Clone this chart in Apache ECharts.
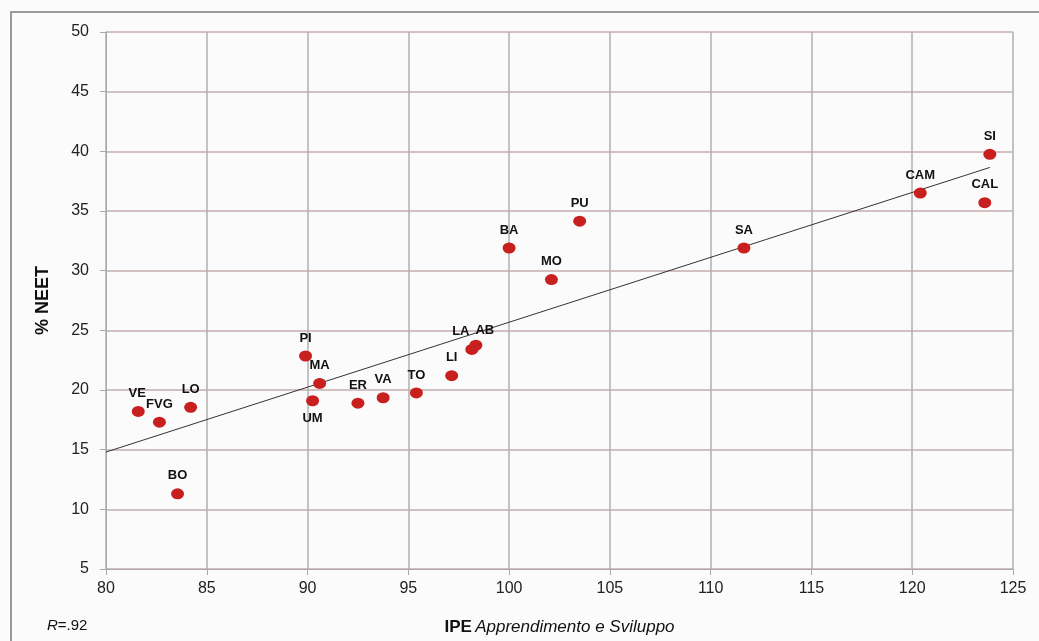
<!DOCTYPE html>
<html>
<head>
<meta charset="utf-8">
<script src="https://cdn.jsdelivr.net/npm/echarts@6/dist/echarts.min.js"></script>
<style>
	html, body { margin: 0; padding: 0; background: #fbfbfc; }
	#neet { width: 1039px; height: 641px; }
</style>
</head>
<body>
<div id="neet"></div>
<script>
	// regioni
	const regioni = ['VE', 'FVG', 'LO', 'BO', 'UM', 'MA', 'PI', 'ER', 'VA', 'TO', 'LI', 'LA', 'AB', 'BA', 'MO', 'PU', 'SA', 'CAM', 'SI', 'CAL']
	// IPE Apprendimento e Sviluppo
	const ipe = [81.6, 82.65, 84.2, 83.55, 90.25, 90.6, 89.9, 92.5, 93.75, 95.4, 97.15, 98.15, 98.35, 100.0, 102.1, 103.5, 111.65, 120.4, 123.85, 123.6]
	// % NEET
	const neet = [18.2, 17.3, 18.55, 11.3, 19.1, 20.55, 22.85, 18.9, 19.35, 19.75, 21.2, 23.4, 23.75, 31.9, 29.25, 34.15, 31.9, 36.5, 39.75, 35.7]
	// retta di regressione
	const trendX = [80, 123.85]
	const trendY = [14.8, 38.65]
	const xTicks = [80, 125, 5]
	const yTicks = [5, 50, 5]

	// etichette spostate
	const labelShift = {
		UM: { position: 'bottom', distance: 6 },
		LA: { offset: [-11, 0] },
		AB: { offset: [9, 3] },
		VE: { offset: [-1, 0] }
	}

	const punti = regioni.map((r, i) => {
		const lab = Object.assign({ show: true, formatter: r }, labelShift[r] || {})
		return { name: r, value: [ipe[i], neet[i]], label: lab }
	})

	const chart = echarts.init(document.getElementById('neet'))

	chart.setOption({
		backgroundColor: '#fbfbfc',
		animation: false,
		grid: { left: 106, right: 26, top: 32, bottom: 71 },
		xAxis: {
			type: 'value',
			min: xTicks[0], max: xTicks[1], interval: xTicks[2],
			axisLine: { show: true, lineStyle: { color: '#a8a8a8', width: 1 } },
			axisTick: { show: true, length: 6, lineStyle: { color: '#a8a8a8' } },
			axisLabel: { color: '#222', fontSize: 16, margin: 12, fontFamily: 'Liberation Sans' },
			splitLine: { show: true, lineStyle: { color: '#b0b0b0', width: 1.5 } },
			name: '{b|IPE} {i|Apprendimento e Sviluppo}',
			nameLocation: 'middle',
			nameGap: 50,
			nameTextStyle: {
				rich: {
					b: { fontSize: 17, fontWeight: 'bold', color: '#111', fontFamily: 'Liberation Sans' },
					i: { fontSize: 17, fontStyle: 'italic', color: '#111', fontFamily: 'Liberation Sans' }
				}
			}
		},
		yAxis: {
			type: 'value',
			min: yTicks[0], max: yTicks[1], interval: yTicks[2],
			axisLine: { show: true, lineStyle: { color: '#a8a8a8', width: 1 } },
			axisTick: { show: true, length: 6, lineStyle: { color: '#a8a8a8' } },
			axisLabel: { color: '#222', fontSize: 16, margin: 17, fontFamily: 'Liberation Sans' },
			splitLine: { show: true, lineStyle: { color: '#c4aeac', width: 1.5 } },
			name: '% NEET',
			nameLocation: 'middle',
			nameGap: 54,
			nameTextStyle: { fontSize: 18, fontWeight: 'bold', color: '#111', fontFamily: 'Liberation Sans' }
		},
		graphic: [
			{
				type: 'rect',
				shape: { x: 11, y: 12, width: 1200, height: 800 },
				style: { fill: 'none', stroke: '#9a9a9a', lineWidth: 2 },
				silent: true
			},
			{
				type: 'text',
				left: 47, top: 618,
				style: {
					text: '{r|R}{n|=.92}',
					rich: {
						r: { fontSize: 15, fontStyle: 'italic', fill: '#111', fontFamily: 'Liberation Sans' },
						n: { fontSize: 15, fill: '#111', fontFamily: 'Liberation Sans' }
					}
				}
			}
		],
		series: [
			{
				type: 'line',
				data: trendX.map((x, i) => [x, trendY[i]]),
				showSymbol: false,
				symbol: 'none',
				lineStyle: { color: '#333', width: 1 },
				z: 2
			},
			{
				type: 'scatter',
				data: punti,
				symbol: 'circle',
				symbolSize: [13, 11],
				itemStyle: { color: '#c8201f', opacity: 1 },
				label: {
					show: true,
					position: 'top',
					distance: 6,
					color: '#111',
					fontSize: 13,
					fontWeight: 'bold',
					fontFamily: 'Liberation Sans'
				},
				z: 3
			}
		]
	})
</script>
</body>
</html>
